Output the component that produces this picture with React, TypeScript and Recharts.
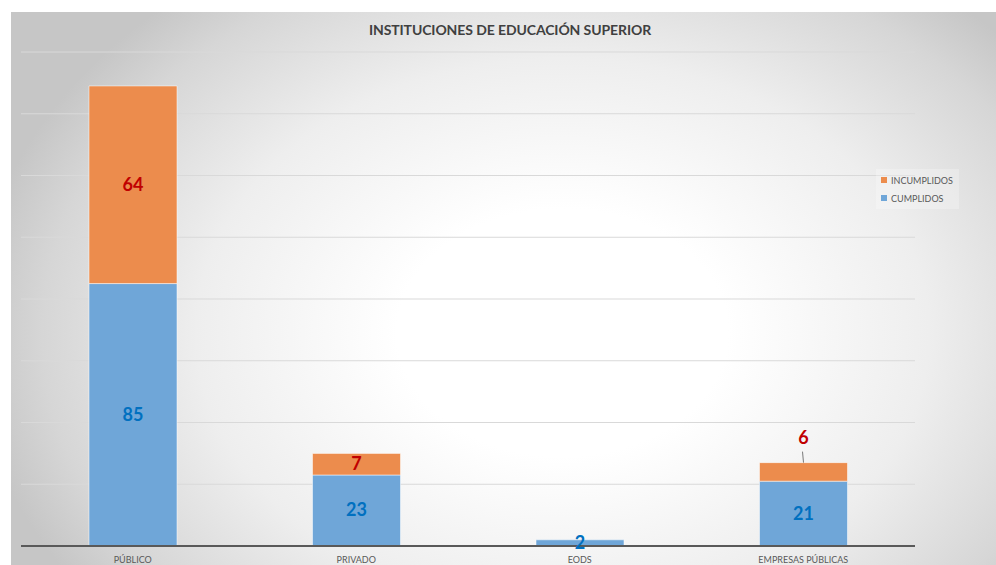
import { BarChart, Bar, XAxis, YAxis, CartesianGrid, LabelList } from "recharts";

const categories = ["PÚBLICO", "PRIVADO", "EODS", "EMPRESAS PÚBLICAS"];
const cumplidos = [85, 23, 2, 21];
const incumplidos = [64, 7, 0, 6];
const yTicks = [0, 20, 40, 60, 80, 100, 120, 140, 160];

const data = categories.map((name, i) => ({
  name,
  cumplidos: cumplidos[i],
  incumplidos: incumplidos[i],
}));

const FONT = "Lato, 'Open Sans', sans-serif";
const BLUE = "#6fa6d8";
const ORANGE = "#ec8c4d";

const AxisTick = (props: any) => {
  const { x, y, payload } = props;
  return (
    <text x={x} y={y + 17} textAnchor="middle" fontSize={9} fill="#595959" fontFamily={FONT}>
      {payload.value}
    </text>
  );
};

const blueLabel = (props: any) => {
  const { x, y, width, height, value } = props;
  if (!value) return null;
  return (
    <text
      x={x + width / 2}
      y={y + height / 2}
      dy={6}
      textAnchor="middle"
      fontSize={18}
      fontWeight={700}
      fill="#0070c0"
      fontFamily={FONT}
    >
      {value}
    </text>
  );
};

const redLabel = (props: any) => {
  const { x, y, width, height, value } = props;
  if (!value) return null;
  const cx = x + width / 2;
  // small segment: label sits above the bar with a leader line
  if (height < 20) {
    return (
      <g>
        <line x1={cx - 1} y1={y - 11} x2={cx} y2={y} stroke="#595959" strokeWidth={0.8} />
        <text x={cx} y={y - 25} dy={6} textAnchor="middle" fontSize={18} fontWeight={700} fill="#c00000" fontFamily={FONT}>
          {value}
        </text>
      </g>
    );
  }
  return (
    <text x={cx} y={y + height / 2} dy={6} textAnchor="middle" fontSize={18} fontWeight={700} fill="#c00000" fontFamily={FONT}>
      {value}
    </text>
  );
};

const legendItems = [
  { label: "INCUMPLIDOS", color: ORANGE },
  { label: "CUMPLIDOS", color: BLUE },
];

export default function App() {
  return (
    <div style={{ position: "fixed", left: 0, top: 0, width: 996, height: 565, overflow: "hidden", background: "#fff" }}>
      <div
        style={{
          position: "absolute",
          left: 11,
          top: 12,
          width: 985,
          height: 553,
          background:
            "radial-gradient(ellipse 60% 80% at 56% 58%, #ffffff 0%, #ffffff 28%, #eeeeee 62%, #d6d6d6 88%, #c6c6c6 100%)",
        }}
      />
      <div
        style={{
          position: "absolute",
          left: 0,
          top: 21,
          width: 996,
          textAlign: "center",
          fontFamily: FONT,
          fontWeight: 700,
          fontSize: 14,
          color: "#404040",
          paddingLeft: 24,
          boxSizing: "border-box",
          letterSpacing: -0.1,
        }}
      >
        INSTITUCIONES DE EDUCACIÓN SUPERIOR
      </div>
      <div style={{ position: "absolute", left: 0, top: 0 }}>
        <BarChart width={996} height={565} data={data} margin={{ top: 52, right: 81, left: 21, bottom: 0 }}>
          <CartesianGrid vertical={false} stroke="#d9d9d9" strokeWidth={1} />
          <YAxis hide domain={[0, 160]} ticks={yTicks} />
          <XAxis
            dataKey="name"
            height={19}
            tickLine={false}
            axisLine={{ stroke: "#595959", strokeWidth: 2 }}
            tick={AxisTick}
            tickSize={0}
            tickMargin={0}
            interval={0}
          />
          <Bar dataKey="cumplidos" stackId="a" fill={BLUE} barSize={88} stroke="rgba(255,255,255,0.5)" isAnimationActive={false}>
            <LabelList dataKey="cumplidos" content={blueLabel} />
          </Bar>
          <Bar dataKey="incumplidos" stackId="a" fill={ORANGE} barSize={88} stroke="rgba(255,255,255,0.5)" isAnimationActive={false}>
            <LabelList dataKey="incumplidos" content={redLabel} />
          </Bar>
        </BarChart>
      </div>
      <div
        style={{
          position: "absolute",
          left: 876,
          top: 169,
          background: "rgba(255,255,255,0.25)",
          padding: "2px 6px 2px 5px",
          fontFamily: FONT,
          fontSize: 9,
          color: "#595959",
        }}
      >
        {legendItems.map((it) => (
          <div key={it.label} style={{ display: "flex", alignItems: "center", height: 18 }}>
            <span style={{ width: 6, height: 6, background: it.color, marginRight: 4, display: "inline-block" }} />
            {it.label}
          </div>
        ))}
      </div>
    </div>
  );
}
